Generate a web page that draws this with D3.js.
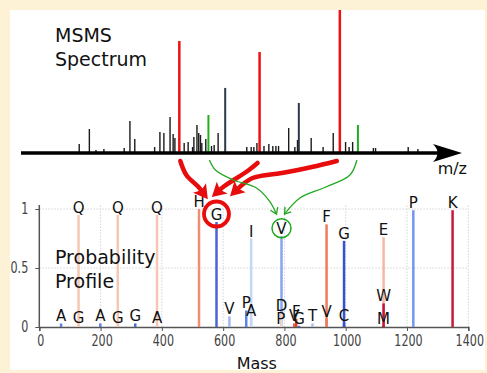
<!DOCTYPE html>
<html>
<head>
<meta charset="utf-8">
<script src="https://cdn.jsdelivr.net/npm/d3@7"></script>
<style>
  html, body { margin: 0; padding: 0; background: #fdf2d5; }
  svg { display: block; }
  text { font-family: "DejaVu Sans", sans-serif; }
</style>
</head>
<body>
<svg id="chart" width="487" height="373"></svg>
<script>
// ---------------- DATA ----------------
// MS/MS spectrum (m/z on arbitrary 0-1000 scale, relative intensity 0-100)
const specMz = [132,155,170,188,234,247,258,303,315,324,338,345,349,370,379,389,392,399,403,407,410,419,432,438,447,463,512,522,528,535,551,562,571,578,584,607,621,627,630,658,685,708,736,744,752,799,804,878,900];
const specInt = [6.3,16.8,2.1,2.8,3.5,22.4,9.8,4.2,14.7,14.0,25.2,13.3,10.5,7.0,7.7,4.2,11.2,19.6,14.0,12.6,7.0,9.8,4.9,5.6,14.0,45.5,4.2,4.2,4.2,7.0,4.9,6.3,4.9,4.9,4.9,17.5,4.2,9.1,35.0,10.5,4.2,14.0,7.7,4.2,7.7,3.5,3.5,4.2,2.8];
const redPeakMz = [359, 541, 723];
const redPeakInt = [78.3, 70.6, 101];
const greenPeakMz = [425, 764];
const greenPeakInt = [26.6, 19.6];

// Probability profile
const profileLabel = ["Q","Q","Q","H","G","I","V","F","G","E","P","K",
                      "A","G","A","G","G","A","V","P","A","D","P","V","F","G","T","V","C","W","M"];
const profileMass  = [128.06,256.12,384.18,521.24,578.26,691.34,790.41,937.48,994.50,1123.54,1220.59,1348.69,
                      71.04,128.06,199.08,256.12,313.14,384.18,620.31,675.31,691.34,790.34,788.39,832.0,838.5,847.43,891.46,937.48,994.50,1123.54,1123.54];
const profileProb  = [0.95,0.95,0.95,1.0,0.89,0.75,0.77,0.87,0.73,0.76,0.99,0.99,
                      0.03,0.02,0.03,0.02,0.03,0.02,0.09,0.14,0.08,0.12,0.01,0.03,0.07,0.01,0.03,0.07,0.03,0.2,0.01];
const barColors    = ["#f6c7b3","#f6c7b3","#f6c7b3","#f28d72","#4a64d6","#c6d6f7","#86a5ee","#ef7a5c","#3554cc","#f5b9a2","#7397ef","#c8183a",
                      "#5f80e3","#f6c7b3","#5f80e3","#f6c7b3","#4a6ad9","#f6c7b3","#9fbaf3","#5d83e8","#c6d6f7","#f0d8cc","#f0d8cc","#e06040","#d8452e","#4a6ad9","#a8c2f4","#ef7a5c","#3554cc","#c01838","#c01838"];
const xTicks = [0,200,400,600,800,1000,1200,1400];
const yTicks = [0,0.5,1];
const yTickLabels = ["0","0.5","1"];

// ---------------- DRAW ----------------
const svg = d3.select("#chart");
svg.append("rect").attr("x",0).attr("y",0).attr("width",487).attr("height",373).attr("fill","#fdf2d5");
svg.append("rect").attr("x",10).attr("y",10).attr("width",475).attr("height",360).attr("fill","#ffffff");

const defs = svg.append("defs");
defs.append("clipPath").attr("id","panel").append("rect").attr("x",10).attr("y",10).attr("width",475).attr("height",360);
defs.append("marker").attr("id","redHead").attr("markerUnits","userSpaceOnUse")
  .attr("viewBox","-12 -12 24 24").attr("markerWidth",24).attr("markerHeight",24)
  .attr("refX",0).attr("refY",0).attr("orient","auto")
  .append("path").attr("d","M-5,-8 L9,0 L-5,8 L-2,0 Z").attr("fill","#e80c0c");
defs.append("marker").attr("id","greenHead").attr("markerUnits","userSpaceOnUse")
  .attr("viewBox","-10 -10 20 20").attr("markerWidth",20).attr("markerHeight",20)
  .attr("refX",0).attr("refY",0).attr("orient","auto")
  .append("path").attr("d","M-6,-4 L0,0 L-6,4").attr("fill","none").attr("stroke","#22a822").attr("stroke-width",1.3);

// ---- spectrum ----
const xS = d3.scaleLinear().domain([0,1000]).range([21,462]);
const yS = d3.scaleLinear().domain([0,100]).range([153,10]);
const spec = svg.append("g").attr("clip-path","url(#panel)");

spec.selectAll("line.blk").data(specMz).join("line").attr("class","blk")
  .attr("x1",d=>xS(d)).attr("x2",d=>xS(d))
  .attr("y1",yS(0)).attr("y2",(d,i)=>yS(specInt[i]))
  .attr("stroke",(d,i)=>specInt[i]>30?"#2b3a46":"#1a1a1a")
  .attr("stroke-width",(d,i)=>specInt[i]>30?2:1.4);
spec.selectAll("line.grn").data(greenPeakMz).join("line").attr("class","grn")
  .attr("x1",d=>xS(d)).attr("x2",d=>xS(d))
  .attr("y1",yS(0)).attr("y2",(d,i)=>yS(greenPeakInt[i]))
  .attr("stroke","#1fae1f").attr("stroke-width",2);
spec.selectAll("line.red").data(redPeakMz).join("line").attr("class","red")
  .attr("x1",d=>xS(d)).attr("x2",d=>xS(d))
  .attr("y1",yS(0)).attr("y2",(d,i)=>yS(redPeakInt[i]))
  .attr("stroke","#f01010").attr("stroke-width",2.5);

// spectrum axis arrow
const ax0 = yS(0);
svg.append("line").attr("x1",xS(0)).attr("x2",xS(1000)-24).attr("y1",ax0).attr("y2",ax0)
  .attr("stroke","#000").attr("stroke-width",3.5);
svg.append("path")
  .attr("d",`M${xS(1000)},${ax0} L${xS(1000)-29},${ax0-9} Q${xS(1000)-20},${ax0} ${xS(1000)-29},${ax0+9} Z`)
  .attr("fill","#000");
svg.append("text").attr("x",xS(1000)+5).attr("y",ax0+21).attr("text-anchor","end")
  .attr("font-size",16).attr("fill","#111").text("m/z");

svg.append("text").attr("x",55).attr("y",42).attr("font-size",19).attr("fill","#111").text("MSMS");
svg.append("text").attr("x",55).attr("y",66).attr("font-size",19).attr("fill","#111").text("Spectrum");

// ---- probability profile ----
const xM = d3.scaleLinear().domain([0,1400]).range([39.3,468.3]);
const yP = d3.scaleLinear().domain([0,1]).range([327,209]);
const yTop = yP(1.034);
const prof = svg.append("g");

// grid
prof.selectAll("line.hg").data([0.5,1]).join("line").attr("class","hg")
  .attr("x1",xM(0)).attr("x2",xM(1400)).attr("y1",d=>yP(d)).attr("y2",d=>yP(d))
  .attr("stroke","#d4d4d4").attr("stroke-width",1).attr("stroke-dasharray","1.5,1.5");
prof.selectAll("line.vg").data(xTicks.slice(1)).join("line").attr("class","vg")
  .attr("x1",d=>xM(d)).attr("x2",d=>xM(d)).attr("y1",yP(0)).attr("y2",yTop)
  .attr("stroke","#d4d4d4").attr("stroke-width",1).attr("stroke-dasharray","1.5,1.5");

// narrow tick-label helper: width per glyph
const narrowWidth = s => Array.from(s).reduce((w,c)=>w+(c==="."?3.6:7.1),0);

// axes
const xAxis = d3.axisBottom(xM).tickValues(xTicks).tickSize(4).tickPadding(4).tickFormat(d3.format("d"));
const gx = prof.append("g").attr("transform",`translate(0,${yP(0)})`).call(xAxis);
gx.select(".domain").attr("stroke","#555").attr("stroke-width",1.5);
gx.selectAll(".tick line").attr("stroke","#555");
gx.selectAll(".tick text").attr("font-family","'DejaVu Sans',sans-serif")
  .attr("font-size",15.5).attr("fill","#444")
  .attr("dx",1)
  .attr("lengthAdjust","spacingAndGlyphs")
  .attr("textLength",function(){ return narrowWidth(this.textContent); });

const yAxis = d3.axisLeft(yP).tickValues(yTicks).tickSize(4).tickPadding(7).tickFormat((d,i)=>yTickLabels[i]);
const gy = prof.append("g").attr("transform",`translate(${xM(0)},0)`).call(yAxis);
gy.select(".domain").attr("d",`M0,${yP(0)}V${yTop}`).attr("stroke","#555").attr("stroke-width",1.5);
gy.selectAll(".tick line").attr("stroke","#555");
gy.selectAll(".tick text").attr("font-family","'DejaVu Sans',sans-serif")
  .attr("font-size",15.5).attr("fill","#444")
  .attr("lengthAdjust","spacingAndGlyphs")
  .attr("textLength",function(){ return narrowWidth(this.textContent); });

// bars
const idx = d3.range(profileMass.length);
prof.selectAll("line.bar").data(idx).join("line").attr("class","bar")
  .attr("x1",i=>xM(profileMass[i])).attr("x2",i=>xM(profileMass[i]))
  .attr("y1",yP(0)).attr("y2",i=>yP(profileProb[i]))
  .attr("stroke",i=>barColors[i]).attr("stroke-width",2.5);

// labels
prof.selectAll("text.lab").data(idx).join("text").attr("class","lab")
  .attr("x",i=>xM(profileMass[i])).attr("y",i=>yP(profileProb[i])-2)
  .attr("text-anchor","middle").attr("font-size",15).attr("fill","#111")
  .text(i=>profileLabel[i]);

svg.append("text").attr("x",55).attr("y",264).attr("font-size",19).attr("fill","#111").text("Probability");
svg.append("text").attr("x",55).attr("y",288).attr("font-size",19).attr("fill","#111").text("Profile");
svg.append("text").attr("x",(xM(0)+xM(1400))/2+3).attr("y",369).attr("text-anchor","middle")
  .attr("font-size",16).attr("fill","#111").text("Mass");

// ---- highlight circles and arrows ----
const gI = 4, vI = 6; // G (578) and V (790) in profile arrays
const gc = [xM(profileMass[gI]), yP(profileProb[gI]) - 8];
const vc = [xM(profileMass[vI]), yP(profileProb[vI]) - 8];
svg.append("circle").attr("cx",gc[0]).attr("cy",gc[1]).attr("r",12.5)
  .attr("fill","none").attr("stroke","#e80c0c").attr("stroke-width",3.8);
svg.append("circle").attr("cx",vc[0]).attr("cy",vc[1]).attr("r",9.5)
  .attr("fill","none").attr("stroke","#22a822").attr("stroke-width",1.5);

const curve = d3.line().curve(d3.curveCatmullRom.alpha(0.5));
const startY = ax0 + 8;
const r1 = xS(redPeakMz[0]), r2 = xS(redPeakMz[1]), r3 = xS(redPeakMz[2]);
const g1 = xS(greenPeakMz[0]), g2 = xS(greenPeakMz[1]);

const redPaths = [
  [[r1+1,startY],[r1+7,startY+14],[gc[0]-18,gc[1]-27],[gc[0]-14,gc[1]-22]],
  [[r2-2,startY+2],[r2-12,startY+10],[gc[0]+8,gc[1]-28],[gc[0]+2,gc[1]-23]],
  [[r3-3,startY],[r3-28,startY+6],[r3-58,startY+12],[gc[0]+36,gc[1]-36],[gc[0]+20,gc[1]-24]]
];
svg.selectAll("path.ra").data(redPaths).join("path").attr("class","ra")
  .attr("d",d=>curve(d)).attr("fill","none").attr("stroke","#e80c0c")
  .attr("stroke-width",4.5).attr("stroke-linecap","round").attr("marker-end","url(#redHead)");

const greenPaths = [
  [[g1+1,startY-1],[g1+7,startY+9],[g1+25,startY+19],[g1+48,startY+27],[vc[0]-12,vc[1]-27],[vc[0]-5,vc[1]-14]],
  [[g2-1,startY-1],[g2-8,startY+14],[g2-32,startY+26],[g2-58,startY+37],[vc[0]+3,vc[1]-14]]
];
svg.selectAll("path.ga").data(greenPaths).join("path").attr("class","ga")
  .attr("d",d=>curve(d)).attr("fill","none").attr("stroke","#22a822")
  .attr("stroke-width",1.3).attr("marker-end","url(#greenHead)");
</script>
</body>
</html>
